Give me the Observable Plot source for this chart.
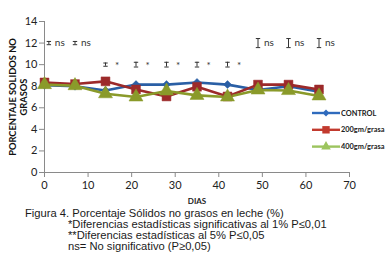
<!DOCTYPE html>
<html>
<head>
<meta charset="utf-8">
<script src="https://cdn.jsdelivr.net/npm/d3@7"></script>
<script src="https://cdn.jsdelivr.net/npm/@observablehq/plot@0.6"></script>
<style>
  html, body { margin: 0; padding: 0; background: #fff; }
  #chart { width: 392px; }
  .cap { font-family: "Liberation Sans", Arial, sans-serif; font-size: 11.2px; line-height: 11.3px; color: #1a1a1a; white-space: nowrap; margin-top: -0.5px; }
  .cap div.l0 { padding-left: 25px; }
  .cap div.ln { padding-left: 68px; }
</style>
</head>
<body>
<div id="chart"></div>
<script>
// ---- data ----
const days = [0, 7, 14, 21, 28, 35, 42, 49, 56, 63];
const control = [8.1, 8.0, 7.6, 8.15, 8.15, 8.35, 8.15, 7.65, 8.0, 7.5];
const g200 = [8.35, 8.2, 8.45, 7.7, 7.05, 7.95, 7.05, 8.15, 8.15, 7.7];
const g400 = [8.15, 8.05, 7.3, 7.0, 7.55, 7.15, 7.0, 7.65, 7.6, 7.1];
const seriesNames = ["CONTROL", "200gm/grasa", "400gm/grasa"];

const annX = [1, 7, 14, 21, 28, 35, 42, 49, 56, 63];
const annY = [12, 12, 10, 10, 10, 10, 10, 12, 12, 12];
const annErr = [0.15, 0.15, 0.15, 0.22, 0.22, 0.22, 0.22, 0.42, 0.42, 0.42];
const annLabel = ["ns", "ns", "*", "*", "*", "*", "*", "ns", "ns", "ns"];

const xTicks = [0, 10, 20, 30, 40, 50, 60, 70];
const yTicks = [0, 2, 4, 6, 8, 10, 12, 14];
const xTitle = "DIAS";
const yTitle = "PORCENTAJE SOLIDOS NO\nGRASOS";
const captionLines = [
  "Figura 4. Porcentaje Sólidos no grasos en leche (%)",
  "*Diferencias estadísticas significativas al 1% P≤0,01",
  "**Diferencias estadísticas al 5% P≤0,05",
  "ns= No significativo (P≥0,05)"
];

// ---- build ----
const colors = ["#2a5fa5", "#9c2a2a", "#8a9a2a"];
const legendColors = ["#2f6bbd", "#c23a2e", "#9cc45e"];
const symbols = ["diamond2", "square", "triangle"];
const radii = [3.6, 5.0, 5.2];
const rows = [];
[control, g200, g400].forEach((vals, s) => {
  vals.forEach((v, i) => rows.push({series: seriesNames[s], s, day: days[i], value: v}));
});
const ann = annX.map((x, i) => ({x, y: annY[i], e: annErr[i], label: annLabel[i]}));

const cap = {
  draw(context, size) {
    context.moveTo(-2.2, 0);
    context.lineTo(2.2, 0);
  }
};

const font = "Lato, 'Open Sans', sans-serif";

const marks = [
  Plot.ruleY([0], {stroke: "#8a8a8a"}),
  Plot.ruleX([0], {y1: 0, y2: 14, stroke: "#8a8a8a"}),
  Plot.axisX({ticks: xTicks, tickSize: 5, tickPadding: 4, stroke: "#8a8a8a", fill: "#222", fontSize: 11, label: null}),
  Plot.axisY({ticks: yTicks, tickSize: 5, tickPadding: 2, stroke: "#8a8a8a", fill: "#222", fontSize: 11, label: null}),
  Plot.text([xTitle], {frameAnchor: "bottom", dy: 31.5, fontWeight: "bold", fontSize: 8, fill: "#222"}),
  Plot.text([yTitle], {frameAnchor: "left", rotate: -90, textAnchor: "middle", lineAnchor: "middle", lineHeight: 1.2, dx: -26.5, dy: 0, fontWeight: "bold", fontSize: 9.3, fill: "#111"}),
  // error bar annotations
  Plot.ruleX(ann, {x: "x", y1: d => d.y - d.e, y2: d => d.y + d.e, stroke: "#333", strokeWidth: 1}),
  Plot.dot(ann, {x: "x", y: d => d.y - d.e, symbol: cap, stroke: "#333", strokeWidth: 1, r: 2}),
  Plot.dot(ann, {x: "x", y: d => d.y + d.e, symbol: cap, stroke: "#333", strokeWidth: 1, r: 2}),
  Plot.text(ann.filter(d => d.label === "ns"), {x: "x", y: "y", text: "label", textAnchor: "start", dx: 6, dy: 0, fontSize: 10, fill: "#333"}),
  Plot.text(ann.filter(d => d.label === "*"), {x: "x", y: "y", text: "label", textAnchor: "start", dx: 9.5, dy: 1, fontSize: 10, fill: "#333"})
];
seriesNames.forEach((name, s) => {
  const data = rows.filter(d => d.s === s);
  marks.push(Plot.line(data, {x: "day", y: "value", stroke: colors[s], strokeWidth: 2.6}));
});
seriesNames.forEach((name, s) => {
  const data = rows.filter(d => d.s === s);
  marks.push(Plot.dot(data, {x: "day", y: "value", symbol: () => symbols[s], r: radii[s], fill: colors[s], stroke: colors[s], strokeWidth: 0.5}));
});

const chart = Plot.plot({
  width: 392,
  height: 208,
  marginLeft: 44,
  marginRight: 43,
  marginTop: 21,
  marginBottom: 36,
  style: {fontFamily: font, background: "#fff"},
  x: {domain: [0, 70]},
  y: {domain: [0, 14]},
  symbol: {type: "identity"},
  marks
});

// legend (layout only)
const svg = d3.select(chart);
const lg = svg.append("g").attr("font-family", font).attr("text-anchor", "start");
seriesNames.forEach((name, s) => {
  const yy = 113 + s * 16.8;
  lg.append("line").attr("x1", 312).attr("x2", 340).attr("y1", yy).attr("y2", yy)
    .attr("stroke", legendColors[s]).attr("stroke-width", 2.4);
  lg.append("path").attr("transform", `translate(326,${yy})`)
    .attr("d", d3.symbol(s === 0 ? d3.symbolDiamond2 : s === 1 ? d3.symbolSquare : d3.symbolTriangle, s === 0 ? 30 : s === 1 ? 55 : 40)())
    .attr("fill", legendColors[s]);
  lg.append("text").attr("x", 341).attr("y", yy).attr("dy", "0.35em")
    .attr("font-size", 7.4).attr("font-weight", "bold").attr("fill", "#222").text(name);
});

document.getElementById("chart").appendChild(chart);
const capDiv = document.createElement("div");
capDiv.className = "cap";
captionLines.forEach((t, i) => {
  const d = document.createElement("div");
  d.className = i === 0 ? "l0" : "ln";
  d.textContent = t;
  capDiv.appendChild(d);
});
document.getElementById("chart").appendChild(capDiv);
</script>
</body>
</html>
